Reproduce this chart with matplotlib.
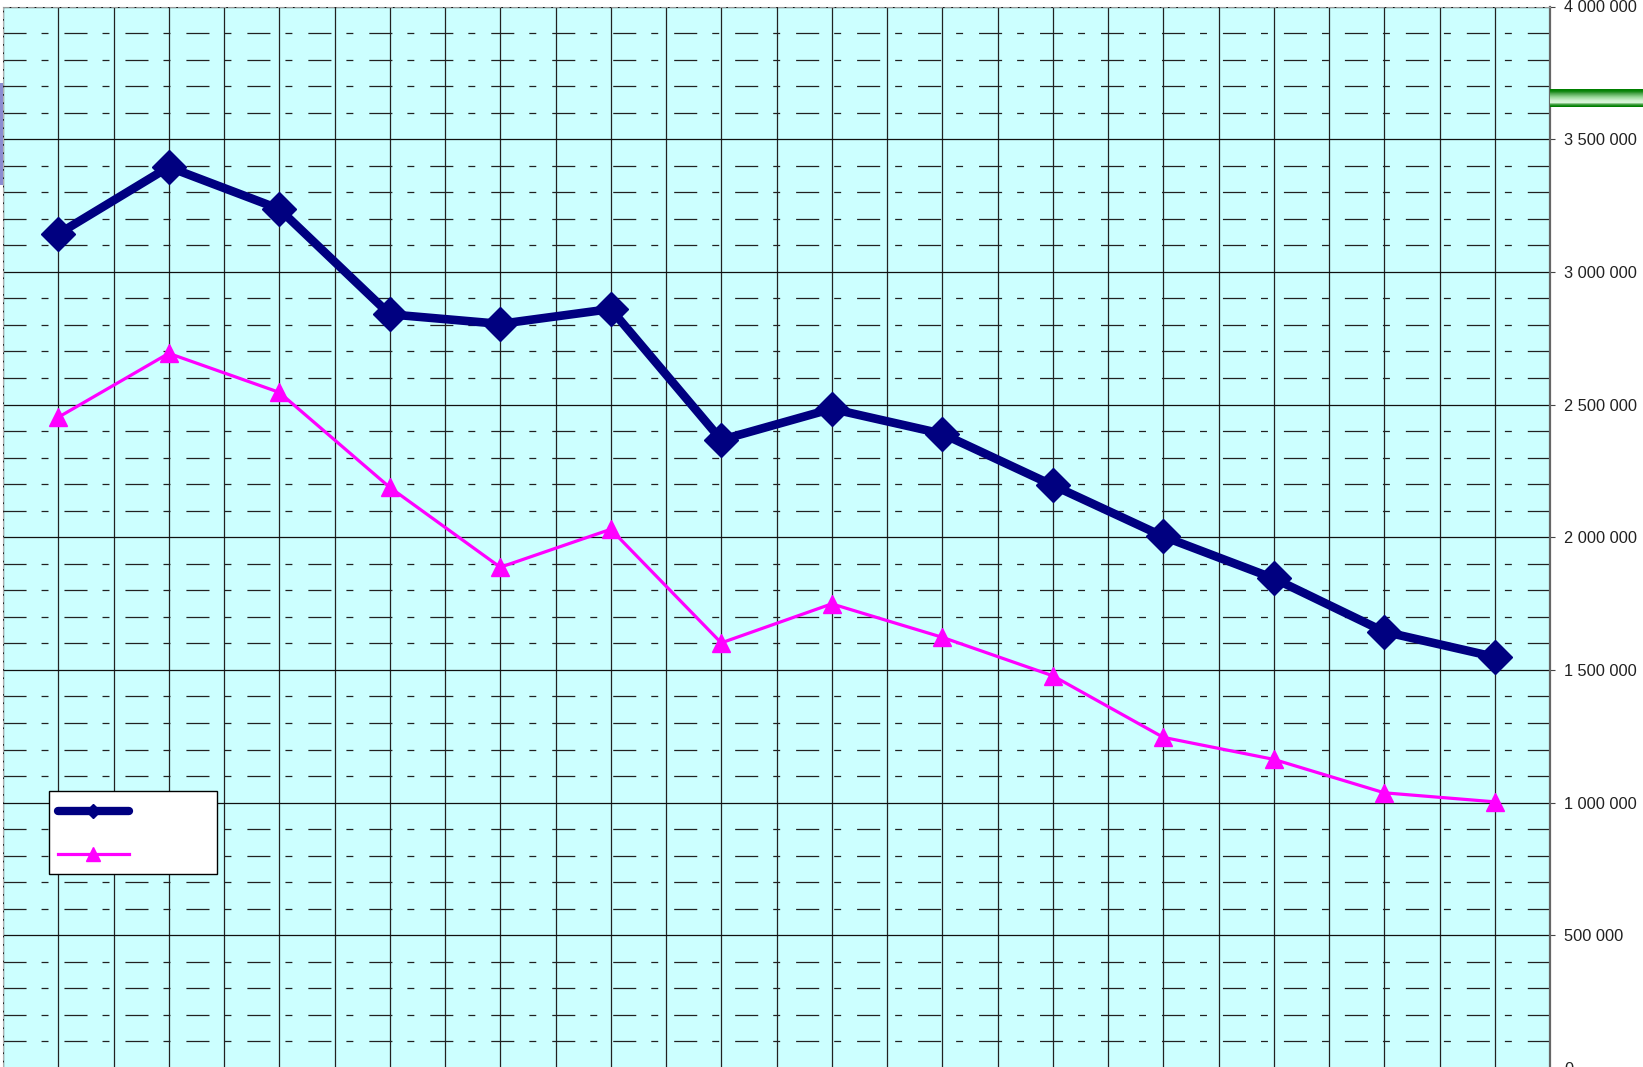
import numpy as np
import matplotlib
matplotlib.use("Agg")
import matplotlib.pyplot as plt
from matplotlib.lines import Line2D
from matplotlib.patches import Rectangle
from matplotlib.ticker import MultipleLocator, FuncFormatter

plt.rcParams["font.family"] = ["Liberation Sans", "DejaVu Sans"]
plt.rcParams["lines.scale_dashes"] = False

# data
points = [0, 1, 2, 3, 4, 5, 6, 7, 8, 9, 10, 11, 12, 13]
series_a = [3143000, 3395000, 3237000, 2840000, 2804000, 2860000, 2367000,
            2484000, 2390000, 2196000, 2003000, 1845000, 1644000, 1549000]
series_b = [2452000, 2693000, 2546000, 2188000, 1887000, 2030000, 1602000,
            1749000, 1623000, 1478000, 1246000, 1163000, 1037000, 1003000]

W, H = 1643, 1067
fig = plt.figure(figsize=(W / 100, H / 100), dpi=100)
fig.patch.set_facecolor("white")

# axes box in pixels: left 3, right 1550, top 6.5, bottom 1068
ax = fig.add_axes([3 / W, (H - 1068) / H, 1547 / W, (1068 - 6.5) / H])
ax.set_facecolor("#ccffff")
ax.set_xlim(-0.5, len(points) - 0.5)
ax.set_ylim(0, 4000000)

ax.plot(points, series_b, color="#ff00ff", lw=2.3, marker="^", ms=13,
        mec="#ff00ff", mew=1, zorder=3, clip_on=False)
ax.plot(points, series_a, color="#000080", lw=6.2, marker="D", ms=17.5,
        mec="#000080", mew=1, zorder=4, clip_on=False)

# grid
ax.set_axisbelow(True)
ax.set_xticks(np.arange(-0.5, len(points), 0.5))
ax.tick_params(axis="x", length=0, labelbottom=False)
ax.grid(axis="x", color="#222222", lw=0.9)

ax.yaxis.set_major_locator(MultipleLocator(500000))
ax.yaxis.set_minor_locator(MultipleLocator(100000))
ax.yaxis.tick_right()
ax.yaxis.set_major_formatter(FuncFormatter(lambda v, p: f"{int(v):,}".replace(",", " ")))
ax.tick_params(axis="y", which="major", direction="out", length=3.6, width=0.8,
               color="#444444", pad=6.5, labelsize=11.8, labelcolor="#222222")
ax.tick_params(axis="y", which="minor", length=0)
ax.grid(axis="y", which="major", color="#111111", lw=0.9)
ax.grid(axis="y", which="minor", color="#222222", lw=0.9,
        linestyle=(0, (16.6, 10.8, 5.0, 11.5)))

ax.spines["right"].set_color("#666666")
ax.spines["right"].set_linewidth(1.6)
ax.spines["top"].set_color("#999999")
ax.spines["top"].set_linestyle((0, (4, 2)))
ax.spines["left"].set_color("#b0b0b0")
ax.spines["left"].set_linestyle((0, (4, 2)))
ax.spines["bottom"].set_visible(False)

# legend box (no text in the original): white frame drawn as a patch
ax.add_patch(Rectangle((49 / W, 1 - 874 / H), 168 / W, 83 / H,
                       transform=fig.transFigure, facecolor="white",
                       edgecolor="black", lw=1.0, zorder=5, clip_on=False))
handles = [
    Line2D([], [], color="#000080", lw=6, marker="D", ms=7.5, solid_capstyle="round"),
    Line2D([], [], color="#ff00ff", lw=2.3, marker="^", ms=10.5),
]
leg = ax.legend(handles, [" ", " "], loc="upper left", frameon=False,
                bbox_to_anchor=(58 / W, 1 - 801.5 / H),
                bbox_transform=fig.transFigure, borderaxespad=0, borderpad=0,
                fontsize=12, handlelength=4.25, handleheight=2.0,
                labelspacing=1.08, handletextpad=0.5)
leg.set_zorder(6)

# slide decorations around the chart
fig.add_artist(Rectangle((0, 1 - 185 / H), 3 / W, 102 / H,
                         transform=fig.transFigure, color="#8c8cd0", lw=0))
gax = fig.add_axes([1550 / W, 1 - 107 / H, 93 / W, 18 / H])
grad = np.array([[0.0, 0.5, 0.0], [0.1, 0.55, 0.1], [0.3, 0.65, 0.3],
                 [0.45, 0.75, 0.45], [0.6, 0.85, 0.6], [0.72, 0.9, 0.72],
                 [0.82, 0.95, 0.82], [0.85, 0.96, 0.85], [0.3, 0.65, 0.3],
                 [0.0, 0.5, 0.0]])
gax.imshow(grad[:, None, :], aspect="auto", interpolation="bilinear")
gax.axis("off")

fig.savefig("out.png", dpi=100)
